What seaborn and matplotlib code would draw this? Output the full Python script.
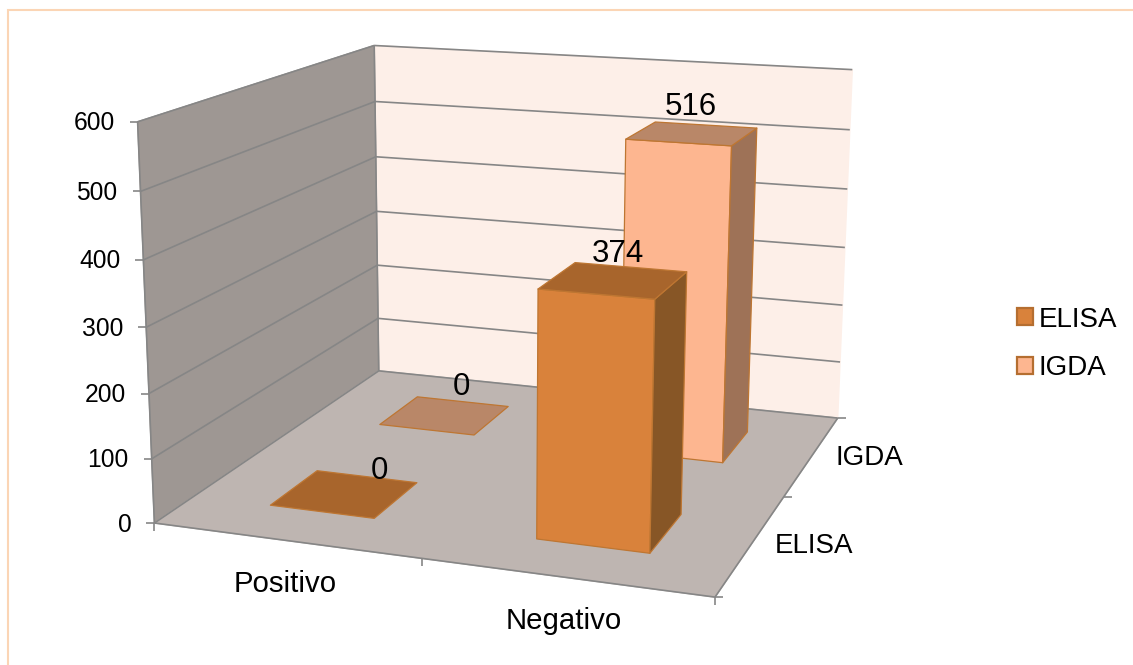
"""3D style column chart: ELISA vs IGDA results"""

import numpy as np
import matplotlib
matplotlib.use('Agg')
import matplotlib.pyplot as plt
from matplotlib.patches import Patch, Polygon
import seaborn as sns

categories = ['Positivo', 'Negativo']
series_names = ['ELISA', 'IGDA']
elisa_values = [0, 374]
igda_values = [0, 516]
value_ticks = [0, 100, 200, 300, 400, 500, 600]

# screen positions of the box corners, used to fit the camera
box_3d = [(0, 0, 0), (2, 0, 0), (0, 2, 0), (2, 2, 0), (0, 0, 600), (0, 2, 600), (2, 2, 600)]
box_px = [(155, 522), (715, 598), (378, 372), (838, 417), (137, 122), (375, 45), (852, 70)]

GRID = '#868686'
EDGE = '#BE7632'
FACES = {'ELISA': ('#D9823B', '#A8652C', '#875626'),
         'IGDA': ('#FDB690', '#B98768', '#9E7257')}


def fit_camera(pts3d, pts2d):
    """Least squares fit of a 3x4 projection matrix."""
    rows, rhs = [], []
    for (x, y, z), (u, v) in zip(pts3d, pts2d):
        rows.append([x, y, z, 1, 0, 0, 0, 0, -u * x, -u * y, -u * z])
        rows.append([0, 0, 0, 0, x, y, z, 1, -v * x, -v * y, -v * z])
        rhs += [u, v]
    sol = np.linalg.lstsq(np.array(rows, float), np.array(rhs, float), rcond=None)[0]
    return np.append(sol, 1).reshape(3, 4)


CAM = fit_camera(box_3d, box_px)


def proj(x, y, z):
    """Chart coordinates (category, series, value) to pixels."""
    p = CAM @ np.array([x, y, z, 1.0])
    return p[0] / p[2], p[1] / p[2]


def face(ax, corners, color, edge=None, lw=1.0, zorder=1):
    ax.add_patch(Polygon([proj(*c) for c in corners], closed=True, facecolor=color,
                         edgecolor=edge if edge else color, lw=lw, zorder=zorder,
                         joinstyle='round'))


def line3d(ax, a, b, zorder=2, offset=(0, 0), end_offset=None):
    pa, pb = proj(*a), proj(*b)
    ax.plot([pa[0] + offset[0], pb[0] + (end_offset or (0, 0))[0]],
            [pa[1] + offset[1], pb[1] + (end_offset or (0, 0))[1]],
            color=GRID, lw=1.2, zorder=zorder, solid_capstyle='butt')


def draw_bar(ax, xi, yi, value, name, zorder):
    """One column, footprint 0.4 wide in the middle of its floor cell."""
    front, top, side = FACES[name]
    x0, x1 = xi + 0.3, xi + 0.7
    y0, y1 = yi + 0.3, yi + 0.7
    if value > 0:
        face(ax, [(x0, y0, 0), (x1, y0, 0), (x1, y0, value), (x0, y0, value)], front, EDGE, 0.9, zorder)
        face(ax, [(x1, y0, 0), (x1, y1, 0), (x1, y1, value), (x1, y0, value)], side, EDGE, 0.9, zorder)
    face(ax, [(x0, y0, value), (x1, y0, value), (x1, y1, value), (x0, y1, value)], top, EDGE, 0.9, zorder)


def draw_box(ax):
    zmax = value_ticks[-1]
    face(ax, [(0, 2, 0), (2, 2, 0), (2, 2, zmax), (0, 2, zmax)], '#FDEFE8')
    face(ax, [(0, 0, 0), (0, 2, 0), (0, 2, zmax), (0, 0, zmax)], '#9E9793')
    face(ax, [(0, 0, 0), (2, 0, 0), (2, 2, 0), (0, 2, 0)], '#BEB5B1')
    for tick in value_ticks:
        line3d(ax, (0, 0, tick), (0, 2, tick))
        line3d(ax, (0, 2, tick), (2, 2, tick))
        line3d(ax, (0, 0, tick), (0, 0, tick), offset=(-8, 0))
        px, py = proj(0, 0, tick)
        ax.text(px - 23, py + 1.5, str(tick), ha='right', va='center', fontsize=17.7)
    line3d(ax, (0, 0, 0), (0, 0, zmax))
    line3d(ax, (0, 2, 0), (0, 2, zmax))
    line3d(ax, (0, 0, 0), (2, 0, 0))
    line3d(ax, (2, 0, 0), (2, 2, 0))
    for i in range(3):
        line3d(ax, (i, 0, 0), (i, 0, 0), end_offset=(0, 8))
        line3d(ax, (2, i, 0), (2, i, 0), end_offset=(8, 0))


def main():
    sns.set_theme(style='white', rc={'font.family': ['Liberation Sans', 'DejaVu Sans'],
                                     'text.color': 'black'})
    fig = plt.figure(figsize=(11.33, 6.65), dpi=100)
    ax = fig.add_axes([0, 0, 1, 1])
    ax.set_xlim(0, 1133)
    ax.set_ylim(665, 0)
    ax.axis('off')

    # only the top and left rule of the frame are inside the crop
    ax.plot([8, 8, 1133], [665, 10, 10], color='#FBD5B5', lw=1.5, zorder=0, solid_joinstyle='miter')

    draw_box(ax)

    draw_bar(ax, 1, 1, igda_values[1], 'IGDA', 5)
    draw_bar(ax, 0, 1, igda_values[0], 'IGDA', 4)
    draw_bar(ax, 1, 0, elisa_values[1], 'ELISA', 6)
    draw_bar(ax, 0, 0, elisa_values[0], 'ELISA', 4)

    label_offsets = {(0, 0): (35, -23), (1, 0): (4, -26), (0, 1): (17, -28), (1, 1): (-1, -27)}
    for yi, vals in enumerate([elisa_values, igda_values]):
        for xi, val in enumerate(vals):
            px, py = proj(xi + 0.5, yi + 0.5, val)
            dx, dy = label_offsets[(xi, yi)]
            ax.text(px + dx, py + dy, str(val), ha='center', va='center', fontsize=22.5, zorder=8)

    for xi, cat in enumerate(categories):
        px, py = proj(xi + 0.5, 0, 0)
        ax.text(px + (0 if xi == 0 else -1), py + 44, cat, ha='center', va='center', fontsize=21.2)
    for yi, name in enumerate(series_names):
        px, py = proj(2, yi + 0.5, 0)
        ax.text(px + 23, py + (2 if yi == 0 else 3), name, ha='left', va='center', fontsize=20)

    handles = [Patch(facecolor=FACES[n][0], edgecolor='#B56E30', lw=1.6, label=n) for n in series_names]
    ax.legend(handles=handles, loc='center left', bbox_to_anchor=(1017 / 1133, 1 - 344 / 665),
              frameon=False, fontsize=20, handlelength=0.58, handleheight=0.58,
              handletextpad=0.2, labelspacing=0.82, borderpad=0, borderaxespad=0)

    plt.savefig('out.png', dpi=100)


if __name__ == '__main__':
    main()
